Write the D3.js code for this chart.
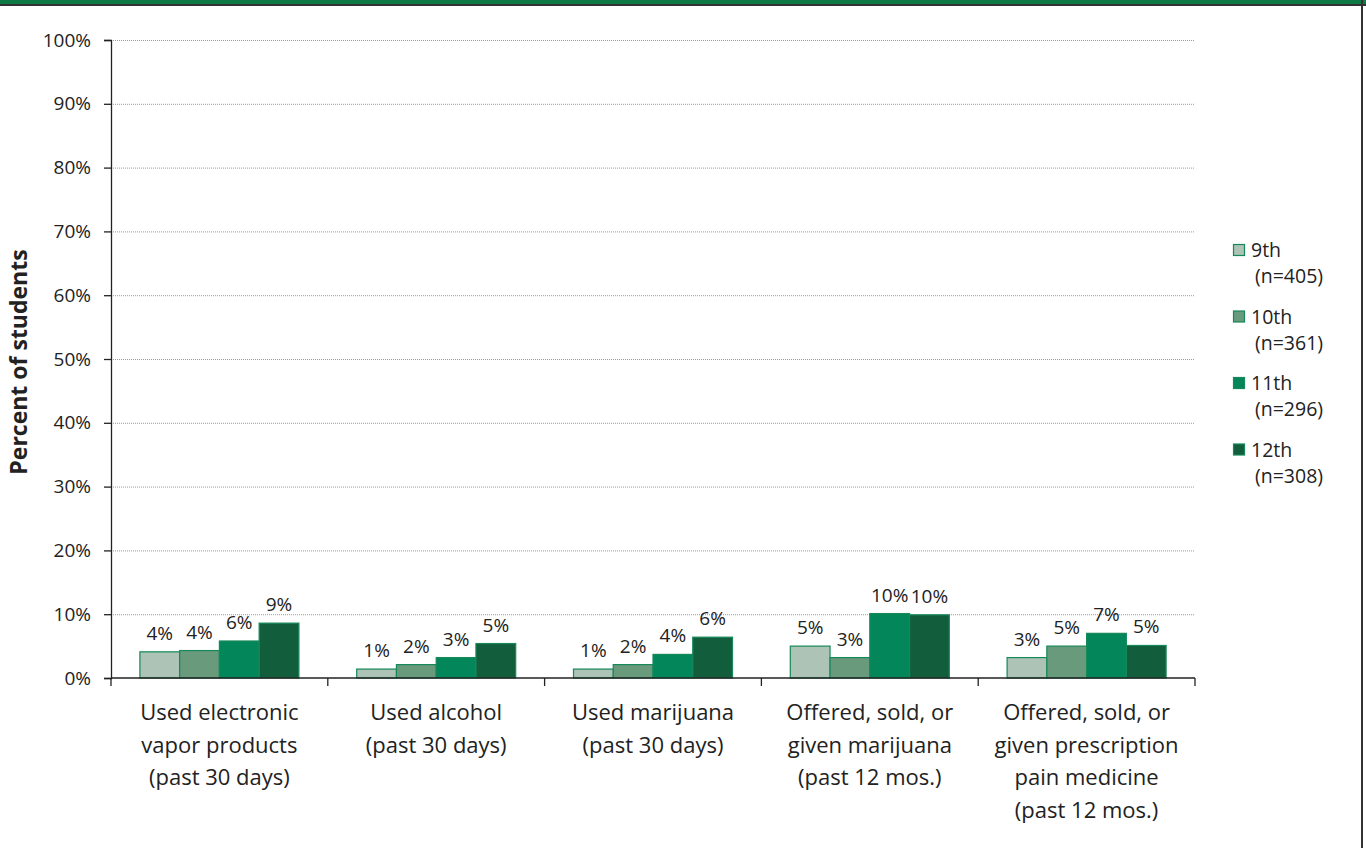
<!DOCTYPE html>
<html><head><meta charset="utf-8">
<script src="https://cdn.jsdelivr.net/npm/d3@7"></script>
<style>body{margin:0;background:#fff;}svg{display:block;font-family:"Open Sans",sans-serif;}</style>
</head><body><svg id="c" width="1366" height="848"></svg>
<script>
const categories = [
  ["Used electronic","vapor products","(past 30 days)"],
  ["Used alcohol","(past 30 days)"],
  ["Used marijuana","(past 30 days)"],
  ["Offered, sold, or","given marijuana","(past 12 mos.)"],
  ["Offered, sold, or","given prescription","pain medicine","(past 12 mos.)"]
];
const seriesNames = ["9th","10th","11th","12th"];
const seriesN = ["(n=405)","(n=361)","(n=296)","(n=308)"];
const seriesColors = ["#adc3b5","#6a9a7c","#03875a","#125e3c"];
const v9th  = [4.1, 1.4, 1.4, 5.0, 3.2];
const v10th = [4.3, 2.1, 2.1, 3.2, 5.0];
const v11th = [5.8, 3.2, 3.7, 10.1, 7.0];
const v12th = [8.6, 5.4, 6.4, 9.9, 5.1];
const yTicks = [0,10,20,30,40,50,60,70,80,90,100];

const series = [v9th, v10th, v11th, v12th];
const svg = d3.select("#c");
const L = 111, R = 1195, T = 40, B = 678;

// frame
svg.append("rect").attr("x",0).attr("y",0).attr("width",1366).attr("height",4).attr("fill","#0f7a45");
svg.append("rect").attr("x",0).attr("y",4).attr("width",1366).attr("height",2).attr("fill","#333");
svg.append("rect").attr("x",1361).attr("y",0).attr("width",2).attr("height",848).attr("fill","#333");

const x0 = d3.scaleBand().domain(d3.range(categories.length)).range([L,R]).paddingInner(0).paddingOuter(0);
const y = d3.scaleLinear().domain([0,100]).range([B,T]);
const groupW = 159;
const x1 = d3.scaleBand().domain(d3.range(4)).range([0,groupW]);

// gridlines
svg.append("g").selectAll("line").data(yTicks.filter(d=>d>0)).join("line")
  .attr("x1",L).attr("x2",R).attr("y1",d=>y(d)+0.5).attr("y2",d=>y(d)+0.5)
  .attr("stroke","#9a9a9a").attr("stroke-width",1).attr("stroke-dasharray","1,1");

// y axis
const ya = svg.append("g").attr("transform",`translate(${L},0)`)
  .call(d3.axisLeft(y).tickValues(yTicks).tickFormat(d=>d+"%").tickSize(7).tickPadding(13));
ya.select(".domain").attr("stroke","#222").attr("stroke-width",1.3);
ya.selectAll(".tick line").attr("stroke","#222").attr("stroke-width",1.3);
ya.selectAll("text").attr("font-size",19).attr("fill","#222").attr("font-family","Open Sans");

// bars
const gr = svg.append("g");
categories.forEach((c,i)=>{
  const gx = x0(i) + (x0.bandwidth()-groupW)/2;
  series.forEach((s,j)=>{
    gr.append("rect").attr("x",gx+x1(j)).attr("y",y(s[i])).attr("width",x1.bandwidth()).attr("height",B-y(s[i]))
      .attr("fill",seriesColors[j]).attr("stroke","#17885a").attr("stroke-width",1.2);
    gr.append("text").attr("x",gx+x1(j)+x1.bandwidth()/2).attr("y",y(s[i])-12)
      .attr("text-anchor","middle").attr("font-size",19).attr("fill","#222").text(Math.round(s[i])+"%");
  });
});

// x axis
svg.append("line").attr("x1",L).attr("x2",R).attr("y1",B).attr("y2",B).attr("stroke","#222").attr("stroke-width",1.5);
d3.range(categories.length+1).forEach(i=>{
  const xx = L + i*x0.bandwidth();
  svg.append("line").attr("x1",xx).attr("x2",xx).attr("y1",B).attr("y2",B+8).attr("stroke","#222").attr("stroke-width",1.3);
});
categories.forEach((c,i)=>{
  const t = svg.append("text").attr("text-anchor","middle").attr("font-size",22).attr("fill","#222");
  c.forEach((ln,k)=>t.append("tspan").attr("x",x0(i)+x0.bandwidth()/2).attr("y",720+k*32.5).text(ln));
});

// y title
svg.append("text").attr("transform","translate(27,362) rotate(-90)").attr("text-anchor","middle")
  .attr("font-size",23).attr("font-weight","bold").attr("fill","#222").text("Percent of students");

// legend
seriesNames.forEach((n,j)=>{
  const ly = 244 + j*66.5;
  svg.append("rect").attr("x",1233.5).attr("y",ly+0.5).attr("width",11).attr("height",11)
    .attr("fill",seriesColors[j]).attr("stroke","#17885a").attr("stroke-width",1.2);
  svg.append("text").attr("x",1251).attr("y",ly+13).attr("font-size",19.5).attr("fill","#222").text(n);
  svg.append("text").attr("x",1255).attr("y",ly+39).attr("font-size",19.5).attr("fill","#222").text(seriesN[j]);
});
</script></body></html>
